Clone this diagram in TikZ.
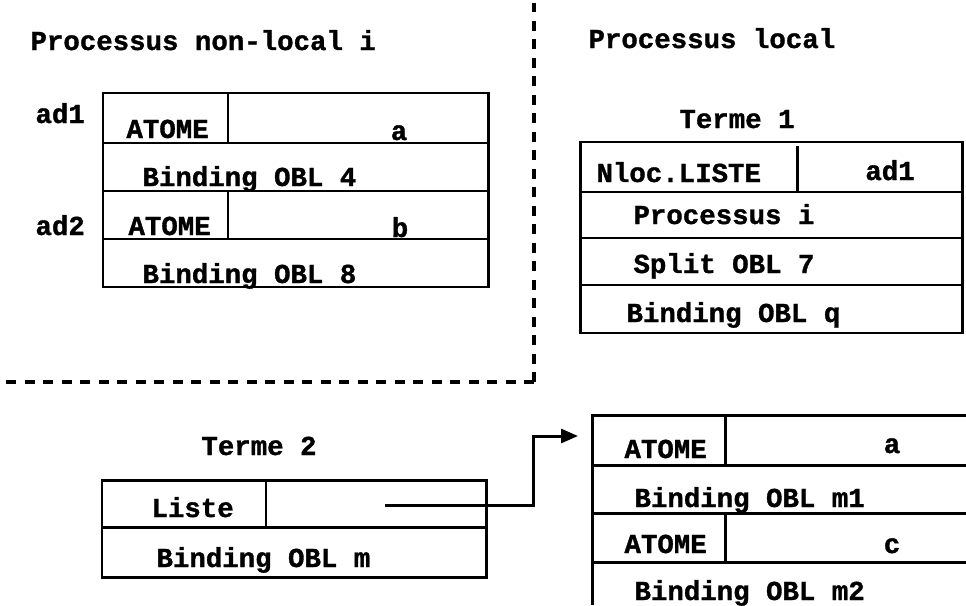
\documentclass[tikz,border=0pt]{standalone}
\usepackage{fontspec}
\newfontfamily\monofont[BoldFeatures={FakeBold=1.2}]{Liberation Mono}
\usetikzlibrary{arrows.meta}

\begin{document}
\begin{tikzpicture}[x=0.02cm, y=-0.02cm, line width=1.7pt,
    txt/.style={font=\monofont\bfseries\fontsize{15.6}{18}\selectfont, inner sep=0pt, anchor=base west},
    ctxt/.style={txt, anchor=base},
    sepline/.style={dash pattern=on 2mm off 1.7mm, line width=2pt},
    >={Triangle[length=3.4mm,width=2.8mm]}]
    \useasboundingbox (0,0) rectangle (966,605);
    % Separator (non-local / local)
    \draw[sepline] (534,382) -- (534,3);
    \draw[sepline] (534,382) -- (0,382);
    % Titles
    \node[txt] (nonlocal) at (29,50) {Processus non-local i};
    \node[txt] (local) at (587,48) {Processus local};
    % Non-local atoms
    \draw (103,93) rectangle (488,287);
    \foreach \y in {143,191,239} {\draw (103,\y) -- (488,\y);}
    \draw (228,93) -- (228,143) (228,191) -- (228,239);
    \node[txt] (ad1) at (34,123) {ad1};
    \node[txt] (ad2) at (34,235) {ad2};
    \node[txt] (atome1) at (125,138) {ATOME};
    \node[ctxt] (vala) at (399,140) {a};
    \node[txt] (bind4) at (141,186) {Binding OBL 4};
    \node[txt] (atome2) at (127,235) {ATOME};
    \node[ctxt] (valb) at (400,237) {b};
    \node[txt] (bind8) at (141,283) {Binding OBL 8};
    % Terme 1
    \node[ctxt] (terme1) at (737,128) {Terme 1};
    \draw (580,142) rectangle (962,333);
    \foreach \y in {192,238,285} {\draw (580,\y) -- (962,\y);}
    \draw (797,146) -- (797,192);
    \node[txt] (nloc) at (595,182) {Nloc.LISTE};
    \node[ctxt] (ptrad1) at (890,180) {ad1};
    \node[txt] (proc) at (632,224) {Processus i};
    \node[txt] (split7) at (632,273) {Split OBL 7};
    \node[txt] (bindq) at (625,322) {Binding OBL q};
    % Terme 2
    \node[ctxt] (terme2) at (259,455) {Terme 2};
    \draw (102,480) rectangle (486,577);
    \draw (102,527) -- (486,527);
    \draw (266,480) -- (266,527);
    \node[txt] (liste) at (150,517) {Liste};
    \node[txt] (bindm) at (155,567) {Binding OBL m};
    % Liste cells
    \draw (966,415) -- (592,415) -- (592,605);
    \foreach \y in {465,513,562} {\draw (592,\y) -- (966,\y);}
    \draw (725,415) -- (725,465) (725,513) -- (725,562);
    \node[txt] (atome3) at (623,458) {ATOME};
    \node[ctxt] (vala2) at (892,453) {a};
    \node[txt] (bindm1) at (633,507) {Binding OBL m1};
    \node[txt] (atome4) at (623,553) {ATOME};
    \node[ctxt] (valc) at (892,553) {c};
    \node[txt] (bindm2) at (633,600) {Binding OBL m2};
    % Pointer
    \coordinate (ptr) at (385,505);
    \coordinate (bend) at (533,436);
    \coordinate (lst) at (578,436);
    \draw[->] (ptr) -| (bend) -- (lst);
\end{tikzpicture}
\end{document}
